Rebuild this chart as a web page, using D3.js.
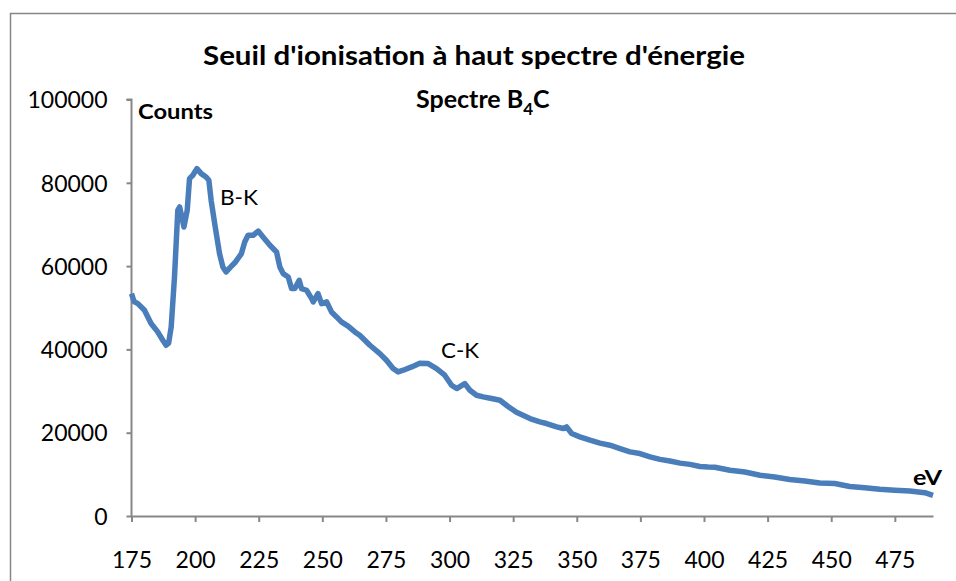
<!DOCTYPE html>
<html>
<head>
<meta charset="utf-8">
<script src="https://cdn.jsdelivr.net/npm/d3@7"></script>
<style>
  html, body { margin: 0; padding: 0; background: #fff; }
  svg { display: block; }
  text { font-family: Lato, "Open Sans", sans-serif; fill: #000; }
</style>
</head>
<body>
<svg id="chart" width="956" height="581"></svg>
<script>
// EELS spectrum of B4C: energy loss (eV) vs counts
const energy = [
  175.0, 176.0, 177.5, 180.1, 182.7, 185.3, 187.3, 188.6, 189.6, 190.6,
  191.9, 193.2, 193.9, 194.7, 195.6, 196.9, 197.8, 199.1, 200.7, 202.4,
  204.3, 205.4, 206.3, 207.9, 209.6, 210.9, 212.2, 214.0, 215.6, 218.2,
  219.5, 220.8, 222.8, 224.8, 226.7, 229.4, 232.0, 233.3, 234.6, 236.6,
  237.9, 239.2, 240.9, 241.8, 243.8, 245.8, 246.4, 248.3, 249.7, 251.7,
  253.6, 255.6, 257.5, 260.1, 262.8, 264.7, 268.7, 272.6, 275.2, 277.8,
  279.8, 281.8, 285.1, 288.3, 291.6, 294.9, 298.1, 300.8, 302.8, 306.0,
  308.0, 310.6, 313.2, 316.5, 319.8, 323.0, 326.3, 331.6, 335.5, 338.1,
  342.1, 344.7, 346.0, 348.0, 351.2, 355.2, 359.1, 363.0, 367.0, 370.9,
  374.8, 378.8, 382.7, 386.6, 390.6, 394.5, 398.4, 401.6, 404.3, 410.2,
  416.1, 422.0, 427.8, 433.7, 439.6, 445.5, 451.4, 457.3, 463.2, 469.1,
  475.0, 480.9, 486.8, 490.0
];
const counts = [
  53400, 51500, 51000, 49400, 46200, 44200, 42200, 41000, 41500, 45400,
  57400, 73400, 74200, 72000, 69400, 73400, 81000, 81800, 83400, 82200,
  81400, 80600, 75800, 69400, 63000, 59800, 58600, 59800, 60800, 63000,
  65800, 67400, 67400, 68400, 67000, 65000, 63400, 59800, 58200, 57400,
  54600, 54600, 56600, 54600, 54200, 52200, 51400, 53400, 51000, 51400,
  49000, 47800, 46600, 45600, 44200, 43400, 41000, 39000, 37400, 35400,
  34600, 35000, 35800, 36700, 36600, 35400, 33800, 31400, 30600, 31800,
  30200, 29000, 28600, 28200, 27800, 26300, 24900, 23400, 22600, 22200,
  21400, 21000, 21400, 19800, 19000, 18200, 17500, 17000, 16200, 15400,
  15000, 14200, 13600, 13200, 12700, 12400, 11900, 11750, 11700, 11000,
  10550, 9800, 9350, 8750, 8400, 7900, 7800, 7100, 6800, 6400,
  6200, 6000, 5600, 4970
];
const xTicks = [175, 200, 225, 250, 275, 300, 325, 350, 375, 400, 425, 450, 475];
const yTicks = [0, 20000, 40000, 60000, 80000, 100000];
const xDomain = [175, 490];
const yDomain = [0, 100000];

const titleLine1 = "Seuil d'ionisation à haut spectre d'énergie";
const yAxisTitle = "Counts";
const xAxisTitle = "eV";
const edgeLabels = [
  { text: "B-K", x: 220, y: 205 },
  { text: "C-K", x: 441, y: 358 }
];

const svg = d3.select("#chart");
const axisColor = "#878787";
const lineColor = "#4a7ebb";

// chart area frame
svg.append("rect")
  .attr("x", 10.5).attr("y", 13.5)
  .attr("width", 980).attr("height", 620)
  .attr("fill", "#fff").attr("stroke", axisColor).attr("stroke-width", 1.5);

const plot = { left: 131.5, right: 933, top: 99.5, bottom: 516 };

const x = d3.scaleLinear().domain(xDomain).range([plot.left, plot.right]);
const y = d3.scaleLinear().domain(yDomain).range([plot.bottom, plot.top]);

// squeeze a text run horizontally to a given width, keeping its height
function squeeze(sel, w) {
  sel.attr("textLength", w).attr("lengthAdjust", "spacingAndGlyphs");
}

// y axis
const yAxis = svg.append("g")
  .attr("transform", `translate(${plot.left},0)`)
  .call(d3.axisLeft(y).tickValues(yTicks).tickSize(5).tickPadding(19).tickFormat(d3.format("d")));
// x axis
const xAxis = svg.append("g")
  .attr("transform", `translate(0,${plot.bottom})`)
  .call(d3.axisBottom(x).tickValues(xTicks).tickSize(6).tickPadding(30).tickSizeOuter(0).tickFormat(d3.format("d")));

[yAxis, xAxis].forEach(g => {
  g.select(".domain").attr("stroke", axisColor).attr("stroke-width", 2);
  g.selectAll(".tick line").attr("stroke", axisColor).attr("stroke-width", 2);
  g.selectAll(".tick text")
    .style("font-family", "Lato, 'Open Sans', sans-serif")
    .style("font-size", "23px")
    .attr("fill", "#000");
});
yAxis.select(".domain").attr("d", `M-5,${plot.top}H0V${plot.bottom}`);
yAxis.selectAll(".tick text").attr("dy", "0.36em");
xAxis.selectAll(".tick text").attr("dy", "0.71em");

// spectrum line
const pts = energy.map((e, i) => [e, counts[i]]);
svg.append("path")
  .datum(pts)
  .attr("fill", "none")
  .attr("stroke", lineColor)
  .attr("stroke-width", 5.5)
  .attr("stroke-linejoin", "round")
  .attr("stroke-linecap", "butt")
  .attr("d", d3.line().x(d => x(d[0])).y(d => y(d[1])));

// title
svg.append("text")
  .attr("x", 203).attr("y", 65)
  .style("font-weight", "bold").style("font-size", "27px")
  .text(titleLine1)
  .call(squeeze, 542);

const t2 = svg.append("text")
  .attr("x", 416).attr("y", 108)
  .style("font-weight", "bold").style("font-size", "25px");
t2.append("tspan").text("Spectre B");
t2.append("tspan").attr("dy", 7).style("font-size", "17px").text("4");
t2.append("tspan").attr("dy", -7).text("C");

// axis titles
svg.append("text")
  .attr("x", 138).attr("y", 119)
  .style("font-weight", "bold").style("font-size", "21px")
  .text(yAxisTitle)
  .call(squeeze, 75);

svg.append("text")
  .attr("x", 913).attr("y", 485)
  .style("font-weight", "bold").style("font-size", "21px")
  .text(xAxisTitle)
  .call(squeeze, 29);

// absorption edge labels
edgeLabels.forEach(l => {
  svg.append("text")
    .attr("x", l.x).attr("y", l.y)
    .style("font-size", "21px")
    .text(l.text)
    .call(squeeze, 38);
});
</script>
</body>
</html>
